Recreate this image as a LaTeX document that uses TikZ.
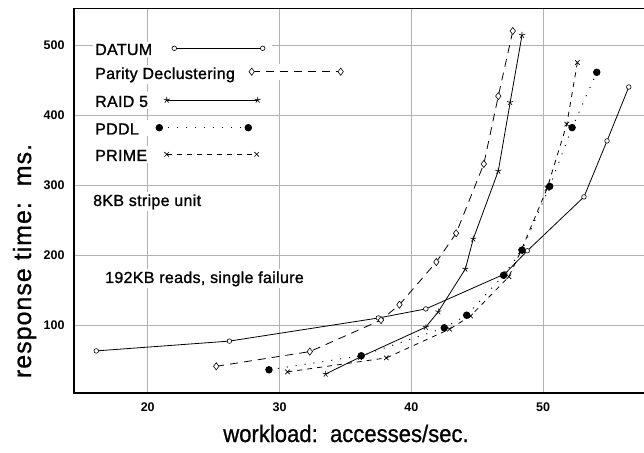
\documentclass[tikz,border=0pt]{standalone}
\usepackage{fontspec}
\setmainfont{Liberation Sans}
\newfontfamily\legfont[FakeBold=1.2,LetterSpace=2]{Liberation Sans}
\newfontfamily\xlabfont[FakeStretch=0.92,FakeBold=0.8]{Liberation Sans}
\newfontfamily\ylabfont[LetterSpace=4,FakeBold=0.8]{Liberation Sans}
\usetikzlibrary{plotmarks}
\definecolor{gridgray}{RGB}{178,178,178}

\begin{document}
\begin{tikzpicture}[x=1pt,y=1pt,
grid line/.style={draw=gridgray,line width=0.9pt},
frame line/.style={draw=black,line width=1.1pt},
tick label/.style={font=\fontsize{12.5}{14}\selectfont\bfseries,inner sep=0pt},
legend text/.style={
% white box hides the grid
font=\legfont\fontsize{16}{19}\selectfont,
anchor=base west,
fill=white,
inner sep=2pt
},
legend mask/.style={draw=white,line width=16pt},
datum line/.style={line width=0.8pt,mark=*,mark size=2.3pt,mark options={solid,fill=white,line width=0.6pt}},
parity line/.style={line width=0.8pt,dash pattern=on 8pt off 6pt,mark=diamond*,mark size=3.6pt,mark options={solid,fill=white,line width=0.6pt}},
raid line/.style={line width=0.8pt,mark=star,mark size=3.2pt,mark options={solid,line width=0.6pt}},
pddl line/.style={line width=1pt,dash pattern=on 1pt off 8pt,mark=*,mark size=3.2pt,mark options={solid,fill=black}},
prime line/.style={line width=0.8pt,dash pattern=on 5pt off 5pt,mark=x,mark size=3.2pt,mark options={solid,line width=0.7pt}}
]
\useasboundingbox (0,0) rectangle (644,452);

% axes in data units: workload (accesses/sec) against response time (ms)
\begin{scope}[shift={(-115.9pt,57pt)},x=13.18pt,y=0.7pt]
\foreach \wx in {20,30,40,50} {
  \draw[grid line] (\wx,2.9) -- (\wx,551.9);
  \node[tick label] (xt\wx) at (\wx,-17) {\wx};
}
\foreach \ry in {100,200,300,400,500} {
  \draw[grid line] (14.41,\ry) -- (57.7,\ry);
  \node[tick label,anchor=east] (yt\ry) at (13.7,\ry) {\ry};
}
\draw[frame line] (57.7,551.9) -- (14.41,551.9) -- (14.41,2.9) -- (57.7,2.9);

\draw[datum line] plot coordinates {(16.1,63) (26.2,77) (37.5,110) (41.1,123) (47.1,173) (48.8,206) (53.1,283) (54.85,363) (56.5,440)};
\draw[parity line] plot coordinates {(25.2,41) (32.3,62) (37.7,107) (39.1,129) (41.9,190) (43.4,231) (45.5,330) (46.6,427) (47.7,520)};
\draw[raid line] plot coordinates {(33.5,30) (36.1,54) (41.1,97) (42.05,119) (44.1,180) (44.7,223) (46.6,320) (47.5,418) (48.4,514)};
\draw[prime line] plot coordinates {(30.6,33) (38.1,53) (42.9,94) (44.5,113) (47.4,169) (48.3,205) (50.3,295) (51.8,387) (52.6,475)};
\draw[pddl line] plot coordinates {(29.2,36) (36.2,56) (42.5,96) (44.2,114) (47.0,171) (48.4,207) (50.5,298) (52.2,382) (54.07,461)};
\end{scope}

% legend
\coordinate (datuma) at (174.3,403.7);
\coordinate (datumb) at (262.7,403.7);
\coordinate (paritya) at (251.7,380.3);
\coordinate (parityb) at (340.7,380.3);
\coordinate (raida) at (166.7,352);
\coordinate (raidb) at (257.7,352);
\coordinate (pddla) at (159.3,324.3);
\coordinate (pddlb) at (248.3,324.3);
\coordinate (primea) at (166.7,297.7);
\coordinate (primeb) at (256.7,297.7);
\draw[legend mask] (150,403.7) -- ([xshift=9pt]datumb);
\draw[legend mask] (230,380.3) -- ([xshift=9pt]parityb);
\draw[legend mask] (145,352) -- ([xshift=9pt]raidb);
\draw[legend mask] (135,324.3) -- ([xshift=9pt]pddlb);
\draw[legend mask] (145,297.7) -- ([xshift=9pt]primeb);
\node[legend text] (datum) at (93,397) {DATUM};
\node[legend text] (parity) at (93,373) {Parity Declustering};
\node[legend text] (raid) at (93,345) {RAID 5};
\node[legend text] (pddl) at (93,317.5) {PDDL};
\node[legend text] (prime) at (93,291) {PRIME};
\draw[datum line] plot coordinates {(datuma) (datumb)};
\draw[parity line] plot coordinates {(paritya) (parityb)};
\draw[raid line] plot coordinates {(raida) (raidb)};
\draw[pddl line] plot coordinates {(pddla) (pddlb)};
\draw[prime line] plot coordinates {(primea) (primeb)};

\node[legend text] (stripe) at (91,246) {8KB stripe unit};
\node[legend text] (reads) at (103,169) {192KB reads, single failure};

% axis titles
\node[font=\xlabfont\fontsize{24}{28}\selectfont,anchor=base] (xtitle) at (346,10) {workload:\ \ accesses/sec.};
\node[font=\ylabfont\fontsize{25}{30}\selectfont,anchor=base,rotate=90] (ytitle) at (31,191) {response time:\ \ ms.};
\end{tikzpicture}
\end{document}
